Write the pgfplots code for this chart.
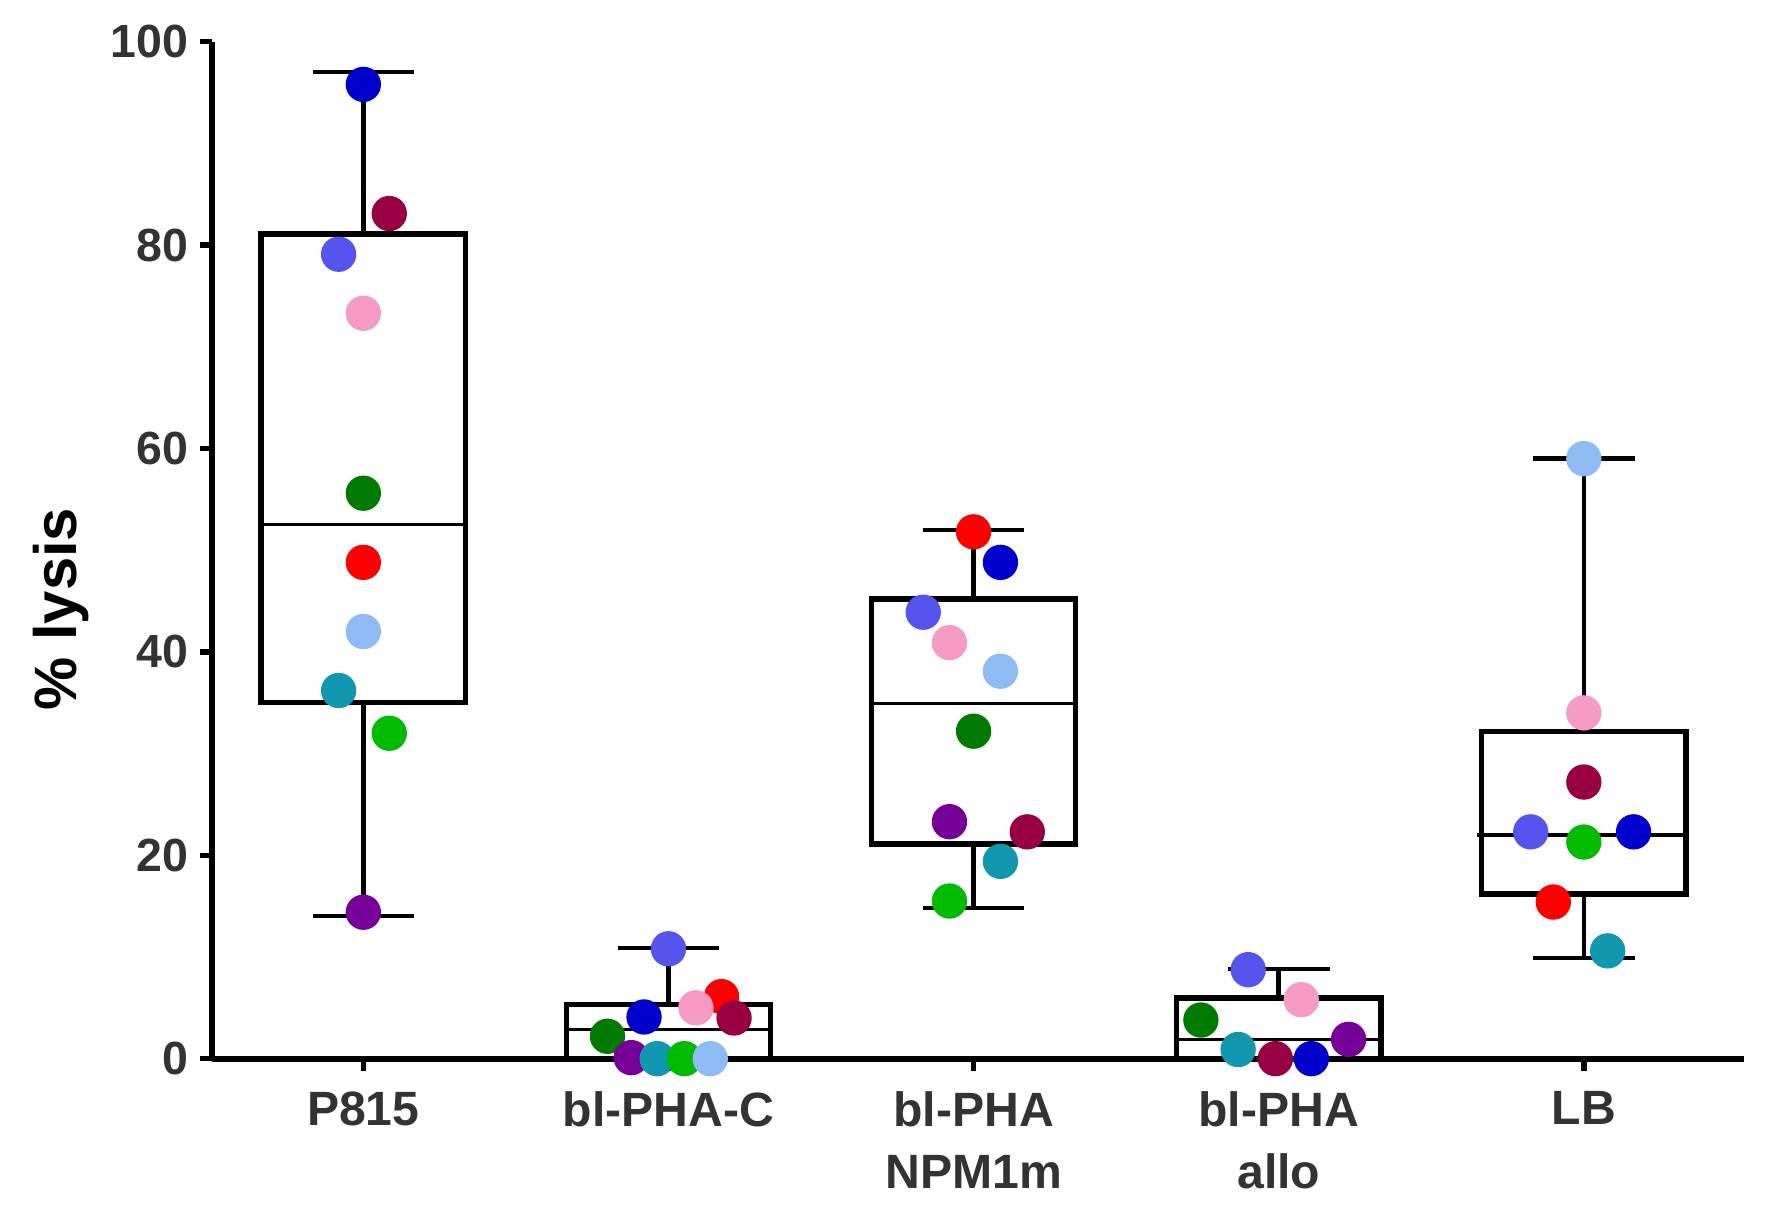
\documentclass[border=0pt]{standalone}
\usepackage{pgfplots}
\pgfplotsset{compat=1.18}
\usepackage{fontspec}
\setmainfont{Liberation Sans}
\definecolor{txt}{HTML}{333333}
\definecolor{cA}{HTML}{0000CC}
\definecolor{cB}{HTML}{990044}
\definecolor{cC}{HTML}{5555EE}
\definecolor{cD}{HTML}{F599C5}
\definecolor{cE}{HTML}{007A00}
\definecolor{cF}{HTML}{FF0000}
\definecolor{cG}{HTML}{8FBBF5}
\definecolor{cH}{HTML}{1197B0}
\definecolor{cI}{HTML}{00BB00}
\definecolor{cJ}{HTML}{770099}
\begin{document}
\begin{tikzpicture}
\path[use as bounding box] (-63.6bp,-48.4bp) rectangle (467.4bp,317.6bp);
\begin{axis}[
  scale only axis,
  width=459.6bp, height=305.1bp,
  xmin=-0.496, xmax=4.525, ymin=0, ymax=100,
  axis x line=bottom, axis y line=left,
  axis line style={line width=1.7bp, -},
  tick style={line width=1.6bp, black},
  tick align=outside,
  major tick length=3.6bp,
  xtick={0,1,2,3,4},
  xticklabels={P815, bl-PHA-C, {bl-PHA\\NPM1m}, {bl-PHA\\allo}, LB},
  ytick={0,20,40,60,80,100},
  /pgf/number format/assume math mode=true,
  ticklabel style={font=\fontsize{14}{18.6}\selectfont\bfseries, text=txt},
  xticklabel style={align=center, yshift=-2.7bp, font=\fontsize{14.5}{18.6}\selectfont\bfseries},
  ylabel={\% lysis},
  every axis y label/.style={at={(axis description cs:-0.0985,0.442)}, rotate=90, anchor=center, font=\fontsize{18}{20}\selectfont\bfseries, text=black},
  clip=false,
]
% ---- box plots (drawn as lines) ----
% P815
\addplot[black, line width=1.6bp, line join=miter] coordinates {(-0.335,35) (0.335,35) (0.335,81.1) (-0.335,81.1) (-0.335,35) (0.335,35)};
\addplot[black, line width=1.0bp] coordinates {(-0.335,52.5) (0.335,52.5)};
\addplot[black, line width=1.4bp] coordinates {(0,81.1) (0,97)};
\addplot[black, line width=1.3bp] coordinates {(-0.1665,97) (0.1665,97)};
\addplot[black, line width=1.4bp] coordinates {(0,35) (0,14)};
\addplot[black, line width=1.3bp] coordinates {(-0.1665,14) (0.1665,14)};
% bl-PHA-C
\addplot[black, line width=1.6bp, line join=miter] coordinates {(0.665,0) (1.335,0) (1.335,5.3) (0.665,5.3) (0.665,0) (1.335,0)};
\addplot[black, line width=1.0bp] coordinates {(0.665,2.9) (1.335,2.9)};
\addplot[black, line width=1.4bp] coordinates {(1,5.3) (1,10.9)};
\addplot[black, line width=1.3bp] coordinates {(0.8335,10.9) (1.1665,10.9)};
% bl-PHA NPM1m
\addplot[black, line width=1.6bp, line join=miter] coordinates {(1.665,21.1) (2.335,21.1) (2.335,45.2) (1.665,45.2) (1.665,21.1) (2.335,21.1)};
\addplot[black, line width=1.0bp] coordinates {(1.665,34.9) (2.335,34.9)};
\addplot[black, line width=1.4bp] coordinates {(2,45.2) (2,52)};
\addplot[black, line width=1.3bp] coordinates {(1.8335,52) (2.1665,52)};
\addplot[black, line width=1.4bp] coordinates {(2,21.1) (2,14.8)};
\addplot[black, line width=1.3bp] coordinates {(1.8335,14.8) (2.1665,14.8)};
% bl-PHA allo
\addplot[black, line width=1.6bp, line join=miter] coordinates {(2.665,0) (3.335,0) (3.335,5.95) (2.665,5.95) (2.665,0) (3.335,0)};
\addplot[black, line width=1.0bp] coordinates {(2.665,1.9) (3.335,1.9)};
\addplot[black, line width=1.4bp] coordinates {(3,5.95) (3,8.8)};
\addplot[black, line width=1.3bp] coordinates {(2.8335,8.8) (3.1665,8.8)};
% LB
\addplot[black, line width=1.6bp, line join=miter] coordinates {(3.665,16.2) (4.335,16.2) (4.335,32.2) (3.665,32.2) (3.665,16.2) (4.335,16.2)};
\addplot[black, line width=1.2bp] coordinates {(3.65,22) (4.335,22)};
\addplot[black, line width=1.4bp] coordinates {(4,32.2) (4,59)};
\addplot[black, line width=1.3bp] coordinates {(3.8335,59) (4.1665,59)};
\addplot[black, line width=1.4bp] coordinates {(4,16.2) (4,9.9)};
\addplot[black, line width=1.3bp] coordinates {(3.8335,9.9) (4.1665,9.9)};
% ---- individual donors ----
\addplot[only marks, mark=*, mark size=5.1bp, color=cA] coordinates {(0,95.8) (0.92,4.1) (2.088,48.8) (3.107,0) (4.163,22.3)};
\addplot[only marks, mark=*, mark size=5.1bp, color=cF] coordinates {(0,48.8) (1.174,6.1) (2,51.8) (3.9,15.4)};
\addplot[only marks, mark=*, mark size=5.1bp, color=cD] coordinates {(0,73.3) (1.09,5.0) (1.921,40.9) (3.074,5.8) (4,34.0)};
\addplot[only marks, mark=*, mark size=5.1bp, color=cB] coordinates {(0.085,83.1) (1.215,4.0) (2.176,22.3) (2.989,0) (4,27.2)};
\addplot[only marks, mark=*, mark size=5.1bp, color=cC] coordinates {(-0.081,79.1) (1.0,10.8) (1.835,43.9) (2.9,8.75) (3.826,22.3)};
\addplot[only marks, mark=*, mark size=5.1bp, color=cE] coordinates {(0,55.6) (0.8,2.2) (2,32.2) (2.745,3.8)};
\addplot[only marks, mark=*, mark size=5.1bp, color=cJ] coordinates {(0,14.4) (0.878,0.1) (1.921,23.3) (3.229,1.9)};
\addplot[only marks, mark=*, mark size=5.1bp, color=cH] coordinates {(-0.081,36.2) (0.963,0) (2.088,19.4) (2.867,0.9) (4.078,10.6)};
\addplot[only marks, mark=*, mark size=5.1bp, color=cI] coordinates {(0.085,32.0) (1.052,0) (1.921,15.5) (4,21.3)};
\addplot[only marks, mark=*, mark size=5.1bp, color=cG] coordinates {(0,42.0) (1.137,0) (2.088,38.1) (4,59.0)};
\end{axis}
\end{tikzpicture}
\end{document}
